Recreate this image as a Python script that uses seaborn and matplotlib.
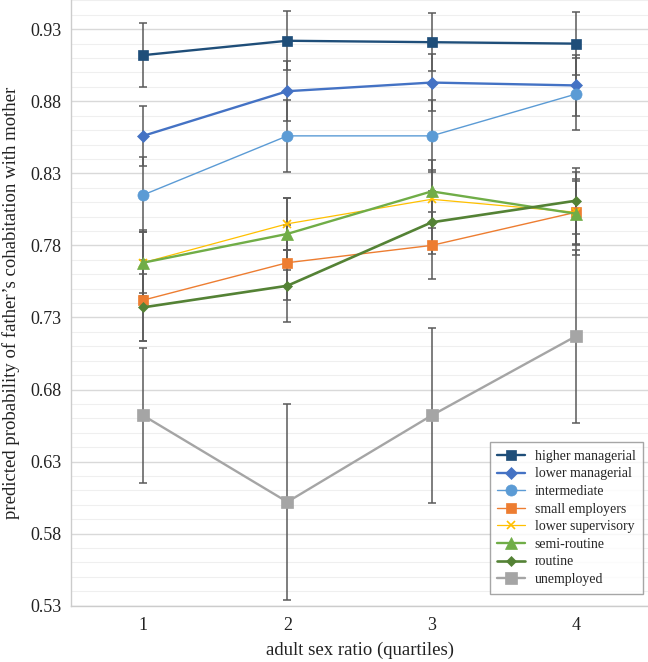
import matplotlib
matplotlib.use('Agg')
import matplotlib.pyplot as plt
import seaborn as sns
import pandas as pd
import numpy as np

sns.set_style('white')
plt.rcParams['font.family'] = ['Liberation Serif', 'DejaVu Serif']

# 数据
quartiles = [1, 2, 3, 4]
classes = ['higher managerial', 'lower managerial', 'intermediate', 'small employers',
           'lower supervisory', 'semi-routine', 'routine', 'unemployed']

higher_managerial = [0.912, 0.922, 0.921, 0.920]
lower_managerial = [0.856, 0.887, 0.893, 0.891]
intermediate = [0.815, 0.856, 0.856, 0.885]
small_employers = [0.742, 0.768, 0.780, 0.803]
lower_supervisory = [0.768, 0.795, 0.812, 0.803]
semi_routine = [0.768, 0.788, 0.8175, 0.802]
routine = [0.737, 0.752, 0.796, 0.811]
unemployed = [0.662, 0.602, 0.662, 0.717]

err_higher_managerial = [0.022, 0.0205, 0.0203, 0.022]
err_lower_managerial = [0.021, 0.021, 0.020, 0.021]
err_intermediate = [0.026, 0.025, 0.025, 0.025]
err_small_employers = [0.028, 0.026, 0.023, 0.023]
err_lower_supervisory = [0.023, 0.018, 0.020, 0.022]
err_semi_routine = [0.021, 0.025, 0.022, 0.029]
err_routine = [0.023, 0.025, 0.022, 0.023]
err_unemployed = [0.047, 0.068, 0.061, 0.060]

values = [higher_managerial, lower_managerial, intermediate, small_employers,
          lower_supervisory, semi_routine, routine, unemployed]
errors = [err_higher_managerial, err_lower_managerial, err_intermediate, err_small_employers,
          err_lower_supervisory, err_semi_routine, err_routine, err_unemployed]

df = pd.DataFrame({
    'quartile': np.tile(quartiles, len(classes)),
    'prob': np.concatenate(values),
    'err': np.concatenate(errors),
    'class': np.repeat(classes, len(quartiles)),
})

# 样式
colors = ['#1f4e79', '#4472c4', '#5b9bd5', '#ed7d31', '#ffc000', '#70ad47', '#548235', '#a5a5a5']
markers = ['s', 'D', 'o', 's', 'x', '^', 'D', 's']
msizes = [7.5, 6.5, 8, 7.5, 6, 8.5, 5, 8.5]
lwidths = [1.7, 1.7, 1.0, 1.0, 0.9, 1.7, 1.9, 1.7]

fig = plt.figure(figsize=(6.48, 6.62), dpi=100)
ax = fig.add_axes([71 / 648, 56.3 / 662, 577 / 648, 605.3 / 662])

# 误差线
for i, name in enumerate(classes):
    sub = df[df['class'] == name]
    ax.errorbar(sub['quartile'], sub['prob'], yerr=sub['err'], fmt='none',
                ecolor='#5a5a5a', elinewidth=1.1, capsize=3, capthick=1.1, zorder=2)

# 折线
for i, name in enumerate(classes):
    sub = df[df['class'] == name]
    sns.lineplot(data=sub, x='quartile', y='prob', ax=ax, color=colors[i], label=name,
                 marker=markers[i], markersize=msizes[i], linewidth=lwidths[i],
                 markeredgecolor=colors[i], markeredgewidth=1.2 if markers[i] == 'x' else 0.5,
                 zorder=3 + i)

ax.set_xlim(0.5, 4.5)
ax.set_ylim(0.53, 0.95)
ax.set_xticks(quartiles)
ax.set_yticks(np.round(np.arange(0.53, 0.931, 0.05), 2))
ax.set_yticks(np.round(np.arange(0.53, 0.951, 0.01), 2), minor=True)
ax.set_yticklabels(['%.2f' % v for v in np.round(np.arange(0.53, 0.931, 0.05), 2)])
ax.tick_params(axis='both', which='both', length=0, labelsize=13, colors='#222222')
ax.tick_params(axis='y', pad=7)
ax.tick_params(axis='x', pad=8)

ax.grid(axis='y', which='major', color='#d9d9d9', linewidth=1.0, zorder=0)
ax.grid(axis='y', which='minor', color='#efefef', linewidth=0.8, zorder=0)
ax.grid(axis='x', which='both', visible=False)
ax.set_axisbelow(True)

for side in ['top', 'right']:
    ax.spines[side].set_visible(False)
for side in ['left', 'bottom']:
    ax.spines[side].set_color('#cccccc')
    ax.spines[side].set_linewidth(1.0)

ax.set_xlabel('adult sex ratio (quartiles)', fontsize=13.5, labelpad=6, color='#222222')
ax.set_ylabel('predicted probability of father\u2019s cohabitation with mother',
              fontsize=13.5, labelpad=7, color='#222222')

leg = ax.legend(loc='lower right', bbox_to_anchor=(0.992, 0.02), borderaxespad=0,
                fontsize=10, frameon=True, fancybox=False, edgecolor='#909090',
                handlelength=2.0, handletextpad=0.7, labelspacing=0.33,
                borderpad=0.55)
leg.get_frame().set_linewidth(1.0)

plt.savefig('out.png', dpi=100)
